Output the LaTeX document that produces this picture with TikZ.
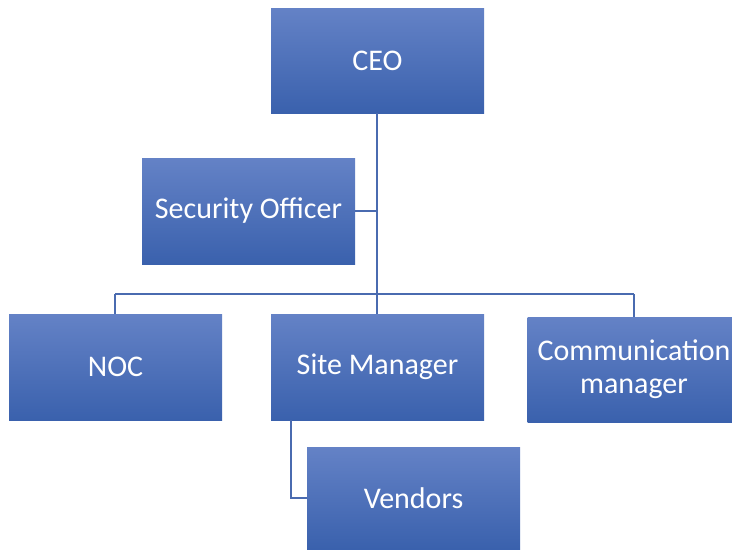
\documentclass[tikz,border=0pt]{standalone}
\usepackage{fontspec}
\setmainfont{Carlito}
\definecolor{boxtop}{HTML}{6482C6}
\definecolor{boxbot}{HTML}{3A61AD}
\definecolor{conn}{HTML}{4A6BB0}
\begin{document}
\begin{tikzpicture}[x=1pt,y=-1pt,
  orgbox/.style={rectangle, top color=boxtop, bottom color=boxbot, draw=none,
    text=white, font=\fontsize{30}{33}\selectfont, align=center, inner sep=0pt},
  conline/.style={draw=conn, line width=1.2pt}]
\useasboundingbox (0,0) rectangle (732,550);
\begin{scope}
\clip (0,0) rectangle (732,550);
\node[orgbox, minimum width=213pt, minimum height=105pt] (ceo) at (377.5,60.5) {CEO};
\node[orgbox, minimum width=213pt, minimum height=106pt] (sec) at (248.5,211) {Security Officer};
\node[orgbox, minimum width=213pt, minimum height=106pt] (noc) at (115.5,367) {NOC};
\node[orgbox, minimum width=213pt, minimum height=106pt] (site) at (377.5,367) {Site Manager};
\node[orgbox, minimum width=213pt, minimum height=105pt] (comm) at (634,369.5) {Communication\\manager};
\node[orgbox, minimum width=213pt, minimum height=102pt] (vend) at (413.5,498) {Vendors};
\end{scope}
\coordinate (hub) at (377,294);
\coordinate (left) at (115,294);
\coordinate (right) at (634,294);
\coordinate (vtop) at (291,420);
\coordinate (vbot) at (291,498);
\draw[conline] (ceo.south -| hub) -- (hub);
\draw[conline] (sec.east) -- (sec.east -| hub);
\draw[conline] (left) -- (right);
\draw[conline] (left) -- (left |- noc.north);
\draw[conline] (hub) -- (hub |- site.north);
\draw[conline] (right) -- (right |- comm.north);
\draw[conline] (vtop) -- (vbot) -- (vend.west);
\end{tikzpicture}
\end{document}
